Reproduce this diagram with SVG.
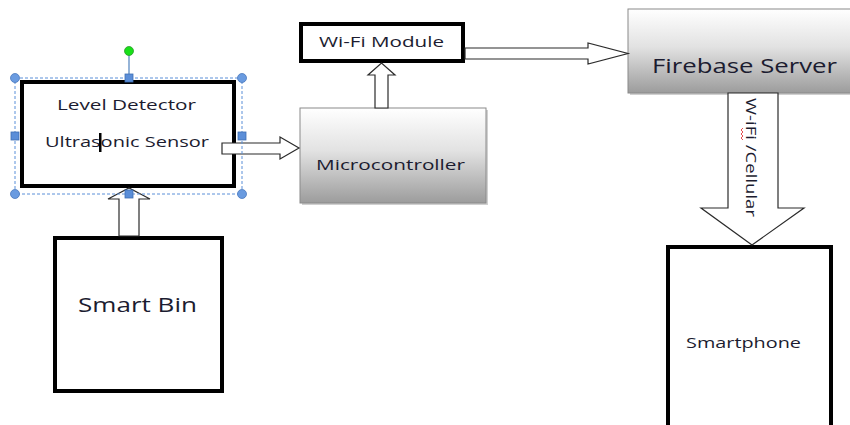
<svg xmlns="http://www.w3.org/2000/svg" width="850" height="425" viewBox="0 0 850 425">
  <style>
    .box { fill: #ffffff; stroke: #000000; stroke-width: 4; }
    .grad { stroke: #8a8a8a; stroke-width: 1; }
    .shadow { fill: #d0d0d0; }
    .arrow { fill: #ffffff; stroke: #2b2b2b; stroke-width: 1.2; stroke-linejoin: miter; }
    .label { font-family: "Open Sans", "Noto Sans", "Liberation Sans", sans-serif; fill: #1c1c30; }
    .sel { fill: none; stroke: #5b8fd8; stroke-width: 1; stroke-dasharray: 3 2; }
    .handle-c { fill: #6a9be0; stroke: #4a78bd; stroke-width: 0.8; }
    .handle-s { fill: #5b8ed8; stroke: #3f6fb5; stroke-width: 0.8; }
  </style>
  <defs>
    <linearGradient id="greyFill" x1="0" y1="0" x2="0" y2="1">
      <stop offset="0" stop-color="#ffffff"/>
      <stop offset="0.45" stop-color="#e2e2e2"/>
      <stop offset="1" stop-color="#9c9c9c"/>
    </linearGradient>
  </defs>

  <rect width="850" height="425" fill="#ffffff"/>

  <!-- Smart Bin -->
  <g id="smart-bin">
    <rect class="box" x="55" y="238" width="167" height="153"/>
    <text class="label" x="137.5" y="312" font-size="20" text-anchor="middle" textLength="119" lengthAdjust="spacingAndGlyphs">Smart Bin</text>
  </g>

  <!-- Level Detector / Ultrasonic Sensor -->
  <g id="level-detector">
    <rect class="box" x="22" y="82" width="212" height="104"/>
    <text class="label" x="126.5" y="110" font-size="15" text-anchor="middle" textLength="139" lengthAdjust="spacingAndGlyphs">Level Detector</text>
    <text class="label" x="127" y="147" font-size="15" text-anchor="middle" textLength="164" lengthAdjust="spacingAndGlyphs">Ultrasonic Sensor</text>
    <!-- text cursor -->
    <rect x="99" y="133" width="2.5" height="19" fill="#000000"/>
  </g>

  <!-- Microcontroller -->
  <g id="microcontroller">
    <rect class="shadow" x="302" y="110" width="186" height="95"/>
    <rect class="grad" x="300" y="108" width="186" height="95" fill="url(#greyFill)"/>
    <text class="label" x="390.5" y="170" font-size="15" text-anchor="middle" textLength="149" lengthAdjust="spacingAndGlyphs">Microcontroller</text>
  </g>

  <!-- Wi-Fi Module -->
  <g id="wifi-module">
    <rect class="box" x="301" y="24" width="162" height="37"/>
    <text class="label" x="381.5" y="47" font-size="15" text-anchor="middle" textLength="125" lengthAdjust="spacingAndGlyphs">Wi-Fi Module</text>
  </g>

  <!-- Firebase Server -->
  <g id="firebase-server">
    <rect class="shadow" x="630" y="11" width="240" height="84"/>
    <rect class="grad" x="628" y="9" width="240" height="84" fill="url(#greyFill)"/>
    <text class="label" x="744.5" y="73" font-size="20" text-anchor="middle" textLength="185" lengthAdjust="spacingAndGlyphs">Firebase Server</text>
  </g>

  <!-- Smartphone -->
  <g id="smartphone">
    <rect class="box" x="668" y="247" width="163" height="200"/>
    <text class="label" x="743.5" y="348" font-size="15" text-anchor="middle" textLength="115" lengthAdjust="spacingAndGlyphs">Smartphone</text>
  </g>

  <!-- Block arrows between the stages -->
  <g id="connectors">
    <polygon class="arrow" points="119,236 119,199 108,199 129,188 150,199 139,199 139,236"/>
    <polygon class="arrow" points="222,143 280,143 280,137 299,148 280,159 280,154 222,154"/>
    <polygon class="arrow" points="375,108 375,75 368,75 381.5,63 395,75 388,75 388,108"/>
    <polygon class="arrow" points="465,48 588,48 588,43 628,53.5 588,64 588,59 465,59"/>
    <g id="cloud-link">
      <polygon class="arrow" points="728,93 778,93 778,208 804,208 752,245 701,208 728,208"/>
      <text class="label" transform="translate(746,98) rotate(90)" x="0" y="0" font-size="15" textLength="119" lengthAdjust="spacingAndGlyphs">W-iFi /Cellular</text>
      <!-- spell-check squiggle -->
      <polyline points="743,128 741,130 743,132 741,134 743,136 741,138 743,140" fill="none" stroke="#e02020" stroke-width="0.8"/>
    </g>
  </g>

  <!-- Selection frame around the sensor block -->
  <g id="selection">
    <rect class="sel" x="15" y="78" width="227" height="116"/>
    <line x1="129" y1="55" x2="129" y2="74" stroke="#4f81bd" stroke-width="1.2"/>
    <circle cx="129" cy="51" r="4.5" fill="#19e019" stroke="#2c9a2c" stroke-width="0.8"/>
    <circle class="handle-c" cx="15" cy="78" r="4.5"/>
    <circle class="handle-c" cx="242" cy="78" r="4.5"/>
    <circle class="handle-c" cx="15" cy="194" r="4.5"/>
    <circle class="handle-c" cx="242" cy="194" r="4.5"/>
    <rect class="handle-s" x="125" y="74" width="8" height="8"/>
    <rect class="handle-s" x="11" y="132" width="8" height="8"/>
    <rect class="handle-s" x="238" y="132" width="8" height="8"/>
    <rect class="handle-s" x="125" y="190" width="8" height="8"/>
  </g>
</svg>
